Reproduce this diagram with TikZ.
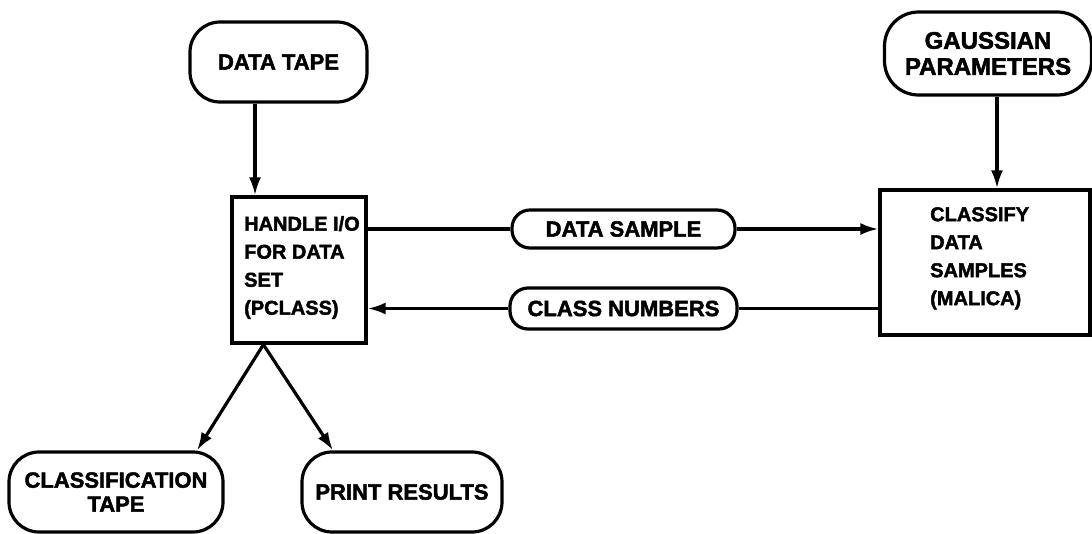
\documentclass[tikz,border=0pt]{standalone}
\usepackage{fontspec}
\setmainfont{Liberation Sans}[BoldFeatures={FakeBold=2}]
\usetikzlibrary{arrows.meta,calc}
\begin{document}
\begin{tikzpicture}[x=1pt,y=1pt,
  every node/.style={font=\fontsize{20}{28}\selectfont\bfseries},
  bigtext/.style={font=\fontsize{22}{24}\selectfont\bfseries},
  pill/.style={draw,line width=3.2pt,rounded corners=30pt,align=center,inner sep=0pt,bigtext},
  smallpill/.style={draw,line width=3.2pt,rounded corners=18pt,align=center,inner sep=0pt,bigtext},
  procbox/.style={draw,line width=3.2pt,align=left,inner sep=0pt},
  conn/.style={line width=3.2pt},
  arr/.style={line width=3.2pt,-{Latex[length=18pt,width=12pt]}}]
\useasboundingbox (0,0) rectangle (1092,-533);
% terminals
\node[pill,minimum width=177pt,minimum height=80pt] (datatape) at (278.5,-62) {DATA TAPE};
\node[pill,minimum width=207pt,minimum height=83pt,rounded corners=34pt,font=\fontsize{24}{26}\selectfont\bfseries] (gauss) at (988,-53.5) {GAUSSIAN\\PARAMETERS};
\node[pill,minimum width=214pt,minimum height=80pt] (ctape) at (116,-492) {CLASSIFICATION\\TAPE};
\node[pill,minimum width=200pt,minimum height=80pt] (print) at (402,-492) {PRINT RESULTS};
% processes
\node[procbox,minimum width=134pt,minimum height=146pt] (handle) at (299,-270) {};
\node[anchor=north west,align=left,inner sep=0pt] (handletext) at (244,-216) {HANDLE I/O\\FOR DATA\\SET\\(PCLASS)};
\node[procbox,minimum width=210pt,minimum height=145pt] (classify) at (985,-262.5) {};
\node[anchor=north west,align=left,inner sep=0pt] (classifytext) at (930,-207) {CLASSIFY\\DATA\\SAMPLES\\(MALICA)};
% data pills
\node[smallpill,minimum width=223pt,minimum height=38pt] (sample) at (623.5,-229) {DATA SAMPLE};
\node[smallpill,minimum width=227pt,minimum height=41pt] (classnum) at (623.5,-308.5) {CLASS NUMBERS};
% connectors
\draw[arr] (datatape.south -| 255,0) -- (handle.north -| 255,0);
\draw[arr] (gauss.south -| 997,0) -- (classify.north -| 997,0);
\draw[conn] (handle.east |- sample.west) -- (sample.west);
\draw[arr] (sample.east) -- (classify.west |- sample.east);
\draw[conn] (classify.west |- classnum.east) -- (classnum.east);
\draw[arr] (classnum.west) -- (handle.east |- classnum.west);
\coordinate (apex) at ($(handle.south west)+(33,0)$);
\draw[arr] (apex) -- ($(ctape.north)+(81,0)$);
\draw[arr] (apex) -- ($(print.north)+(-69,0)$);
\end{tikzpicture}
\end{document}
